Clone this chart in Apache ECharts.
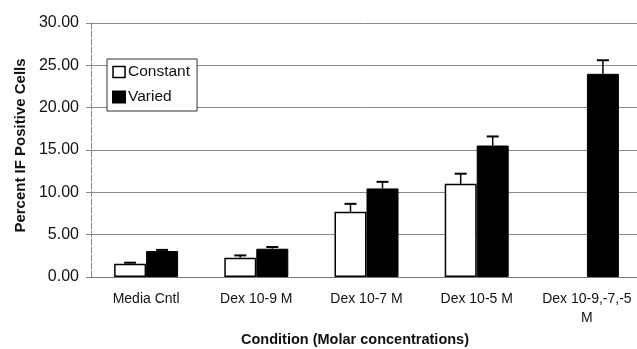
<!DOCTYPE html>
<html><head><meta charset="utf-8">
<script src="https://cdn.jsdelivr.net/npm/echarts@6/dist/echarts.min.js"></script>
<style>html,body{margin:0;padding:0;background:#fff}#c{width:637px;height:349px}</style>
</head><body><div id="c"></div>
<script>
var categories = ['Media Cntl', 'Dex 10-9 M', 'Dex 10-7 M', 'Dex 10-5 M', 'Dex 10-9,-7,-5\nM'];
var constantVals = [1.57, 2.28, 7.7, 11.0, null];
var constantErr = [0.12, 0.27, 0.94, 1.2, null];
var variedVals = [3.07, 3.34, 10.46, 15.53, 24.0];
var variedErr = [0.13, 0.2, 0.78, 1.07, 1.6];
var yTicks = [0, 5, 10, 15, 20, 25, 30];

var chart = echarts.init(document.getElementById('c'), null, {renderer: 'canvas'});
var FONT = 'Liberation Sans, Arial, sans-serif';
var BAR_W = 32;

function errSeries(vals, errs, offset) {
  var data = [];
  vals.forEach(function (v, i) {
    if (v != null && errs[i] != null) data.push([i, v, v + errs[i]]);
  });
  return {
    type: 'custom',
    z: 5,
    data: data,
    renderItem: function (params, api) {
      var base = api.coord([api.value(0), api.value(1)]);
      var top = api.coord([api.value(0), api.value(2)]);
      var x = base[0] + offset;
      return {
        type: 'group',
        children: [
          {type: 'line', shape: {x1: x, y1: base[1], x2: x, y2: top[1]}, style: {stroke: '#000', lineWidth: 1.5}},
          {type: 'line', shape: {x1: x - 6, y1: top[1], x2: x + 6, y2: top[1]}, style: {stroke: '#000', lineWidth: 2}}
        ]
      };
    },
    encode: {x: 0, y: 2},
    silent: true
  };
}

chart.setOption({
  animation: false,
  backgroundColor: '#fff',
  grid: {left: 91, right: -5, top: 23, bottom: 72, containLabel: false, outerBoundsMode: 'none'},
  legend: {
    left: 107, top: 59,
    orient: 'vertical',
    itemWidth: 12, itemHeight: 11, itemGap: 9,
    padding: [5, 7, 6, 5],
    borderColor: '#333', borderWidth: 1,
    backgroundColor: '#fff',
    textStyle: {fontFamily: FONT, fontSize: 15.5, lineHeight: 14, color: '#111', padding: [0, 0, 0, -2]},
    data: [
      {name: 'Constant', icon: 'rect', itemStyle: {color: '#fff', borderColor: '#000', borderWidth: 1.5}},
      {name: 'Varied', icon: 'rect', itemStyle: {color: '#000'}}
    ]
  },
  xAxis: {
    type: 'category',
    data: categories,
    name: 'Condition (Molar concentrations)',
    nameLocation: 'middle',
    nameGap: 43,
    nameTextStyle: {fontFamily: FONT, fontSize: 14.5, fontWeight: 'bold', color: '#111', padding: [0, 23, 0, 0]},
    axisLine: {lineStyle: {color: '#777', width: 1}},
    axisTick: {show: false},
    axisLabel: {fontFamily: FONT, fontSize: 14, color: '#111', margin: 13, lineHeight: 19, interval: 0}
  },
  yAxis: {
    type: 'value',
    min: 0, max: 30, interval: 5,
    name: 'Percent IF Positive Cells',
    nameLocation: 'middle',
    nameGap: 62,
    nameTextStyle: {fontFamily: FONT, fontSize: 15, fontWeight: 'bold', color: '#111', padding: [0, 0, 0, 9]},
    axisLine: {show: true, lineStyle: {color: '#888', width: 1, type: [6, 2]}},
    axisTick: {show: true, length: 5, lineStyle: {color: '#888'}},
    axisLabel: {fontFamily: FONT, fontSize: 16, color: '#111', margin: 12,
      formatter: function (v) { return yTicks.indexOf(v) >= 0 ? v.toFixed(2) : ''; }},
    splitLine: {show: true, lineStyle: {color: '#888', width: 1}}
  },
  series: [
    {
      name: 'Constant', type: 'bar', data: constantVals,
      barWidth: BAR_W, barGap: '0%',
      itemStyle: {color: '#fff', borderColor: '#000', borderWidth: 1.5}
    },
    {
      name: 'Varied', type: 'bar', data: variedVals,
      barWidth: BAR_W, barGap: '0%',
      itemStyle: {color: '#000', borderColor: '#000', borderWidth: 1}
    },
    errSeries(constantVals, constantErr, -BAR_W / 2),
    errSeries(variedVals, variedErr, BAR_W / 2)
  ]
});
</script></body></html>
